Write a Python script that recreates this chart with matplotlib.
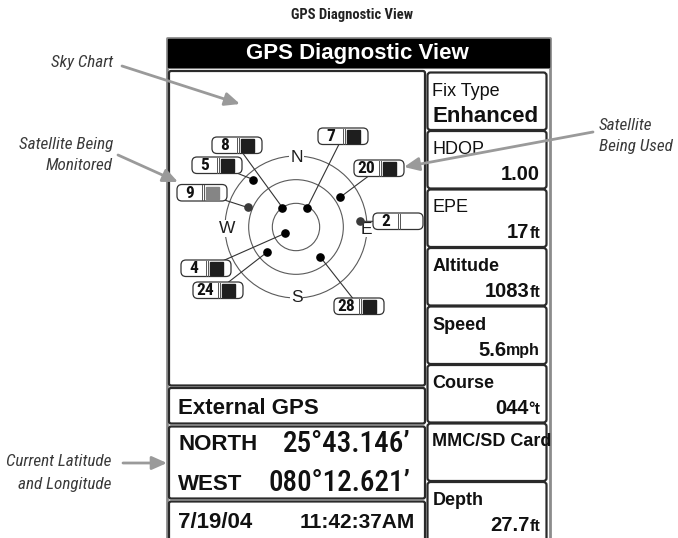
import numpy as np
import matplotlib
matplotlib.use("Agg")
import matplotlib.pyplot as plt
from matplotlib import font_manager as fm
from matplotlib.patches import FancyBboxPatch, Circle, Rectangle

W, H = 678, 538

# --- data -----------------------------------------------------------------
sat_ids   = [8, 7, 5, 9, 20, 2, 4, 24, 28]
sat_az    = [325, 30, 318, 292, 56, 85, 240, 229, 141]   # deg, clockwise from N
sat_el    = [60, 62, 9, 24, 22, 8, 74, 41, 41]            # deg above horizon
sat_state = ["used", "used", "used", "monitored", "used", "none", "used", "used", "used"]
ring_el   = [0, 30, 60]

field_names  = ["Fix Type", "HDOP", "EPE", "Altitude", "Speed", "Course", "MMC/SD Card", "Depth"]
field_values = ["Enhanced", "1.00", "17", "1083", "5.6", "044", "", "27.7"]
field_units  = ["", "", "ft", "ft", "mph", "°t", "", "ft"]

source_txt = "External GPS"
lat_dir, lat_val = "NORTH", "25°43.146’"
lon_dir, lon_val = "WEST", "080°12.621’"
date_txt, time_txt = "7/19/04", "11:42:37AM"

# --- layout ---------------------------------------------------------------
CX, CY, R_OUT = 296, 227, 71
label_boxes = [(212, 137), (318, 128), (192, 157), (177, 184.5), (354, 160),
               (373, 213), (181, 260), (193, 282), (334, 298)]   # top-left, px
LBW, LBH = 50, 16.5

SANS = "Liberation Sans"


def condensed_font(weight, italic):
    """Look for an installed narrow/condensed face; None if there is none."""
    found = []
    for f in fm.fontManager.ttflist:
        nm = f.name.lower()
        fn = f.fname.lower()
        narrow = ("narrow" in nm or "condensed" in nm or "narrow" in fn
                  or "condensed" in fn or f.stretch in ("condensed", "semi-condensed"))
        if not narrow or "extra" in fn or "ultra" in fn:
            continue
        is_it = f.style in ("italic", "oblique")
        w = f.weight if isinstance(f.weight, int) else (700 if "bold" in str(f.weight) else 400)
        pref = 0 if "liberation" in nm else 1 if "roboto" in nm else 2 if "dejavu" in nm else 3
        score = pref * 1000 + abs(w - weight) + (0 if is_it == italic else 500)
        found.append((score, f.fname))
    if not found:
        return None
    found.sort()
    return fm.FontProperties(fname=found[0][1])


def fp(weight=400, italic=False, size=12, fallback_size=None):
    c = condensed_font(weight, italic)
    if c is not None:
        c.set_size(size)
        return c
    return fm.FontProperties(family=SANS, weight="bold" if weight >= 600 else "normal",
                             style="italic" if italic else "normal",
                             size=fallback_size or size * 0.85)


fig = plt.figure(figsize=(W / 100, H / 100), dpi=100)
ax = fig.add_axes([0, 0, 1, 1])
ax.set_xlim(0, W)
ax.set_ylim(H, 0)
ax.axis("off")
rend = fig.canvas.get_renderer()


def rbox(x0, y0, x1, y1, r=3, lw=1.6, ec="#2a2a2a", fc="white", z=2):
    p = FancyBboxPatch((x0, y0), x1 - x0, y1 - y0,
                       boxstyle=f"round,pad=0,rounding_size={r}",
                       lw=lw, ec=ec, fc=fc, zorder=z)
    ax.add_patch(p)
    return p


def sky_xy(az, el):
    r = R_OUT * (90 - np.asarray(el, float)) / 90
    a = np.deg2rad(az)
    return CX + r * np.sin(a), CY - r * np.cos(a)


# caption
ax.text(352, 15, "GPS Diagnostic View", fontproperties=fp(700, size=10.5),
        ha="center", va="center", color="#222")

# outer frame + title bar
ax.plot([166.5, 166.5, 549.5, 549.5], [H, 37.5, 37.5, H], color="#8c8c8c", lw=2, zorder=1)
ax.add_patch(Rectangle((168, 38.5), 380.5, 28.5, color="black", zorder=2))
ax.plot([168, 548.5], [68, 68], color="#8c8c8c", lw=1.5, zorder=1)
ax.text(357, 53, "GPS Diagnostic View", family=SANS, weight="bold", fontsize=16,
        color="white", ha="center", va="center", zorder=3)

# left panel boxes
rbox(169, 71, 425, 385.5, r=2)
rbox(169, 388, 425, 423.5, r=2)
rbox(169, 426.5, 425, 498.5, r=2)
rbox(169, 501.5, 425, 550, r=2)

# sky chart rings
for el in ring_el:
    r = R_OUT * (90 - el) / 90
    ax.add_patch(Circle((CX, CY), r, fill=False, ec="#5a5a5a", lw=0.8, zorder=3))
for lab, (lx, ly) in zip("NSWE", [(296.5, 158), (296.5, 297), (227.5, 228.5), (366.5, 229)]):
    ax.text(lx, ly, lab, family=SANS, fontsize=12.5, color="#1e1e1e", ha="center", va="center",
            zorder=4, bbox=dict(boxstyle="square,pad=0.05", fc="white", ec="none"))

# satellites
sx, sy = sky_xy(sat_az, sat_el)
fill_col = {"used": "#1e1e1e", "monitored": "#858585", "none": None}
dot_col = {"used": "black", "monitored": "#3a3a3a", "none": "#3a3a3a"}
num_fp = fp(700, size=12.5, fallback_size=10.5)
for i, sid in enumerate(sat_ids):
    bx, by = label_boxes[i]
    ax.plot([sx[i], bx + LBW / 2], [sy[i], by + LBH / 2], color="#333", lw=0.8, zorder=4)
    ax.plot(sx[i], sy[i], "o", ms=5.2, color=dot_col[sat_state[i]], zorder=6)
    rbox(bx, by, bx + LBW, by + LBH, r=5, lw=0.9, ec="#333", z=5)
    ax.text(bx + 12.5, by + LBH / 2 + 0.5, str(sid), fontproperties=num_fp,
            ha="center", va="center", color="#111", zorder=6)
    ax.plot([bx + 24.5, bx + 24.5], [by + 0.8, by + LBH - 0.8], color="#555", lw=0.7, zorder=6)
    ax.plot([bx + 26.5, bx + 26.5], [by + 0.8, by + LBH - 0.8], color="#555", lw=0.7, zorder=6)
    if fill_col[sat_state[i]]:
        ax.add_patch(Rectangle((bx + 29, by + 2), 12.5, LBH - 4,
                               color=fill_col[sat_state[i]], zorder=6))

# source / position / time
ax.text(178, 414.5, source_txt, family=SANS, weight="bold", fontsize=16, color="#111", zorder=6)
ax.text(178, 450.5, lat_dir, family=SANS, weight="bold", fontsize=16, color="#111", zorder=6)
ax.text(178, 489.5, lon_dir, family=SANS, weight="bold", fontsize=16, color="#111", zorder=6)
big_fp = fp(500, size=21, fallback_size=18.5)
ax.text(410, 451.5, lat_val, fontproperties=big_fp, ha="right", color="#111", zorder=6)
ax.text(410, 491, lon_val, fontproperties=big_fp, ha="right", color="#111", zorder=6)
ax.text(178, 528, date_txt, family=SANS, weight="bold", fontsize=16, color="#111", zorder=6)
ax.text(415, 528, time_txt, family=SANS, weight="bold", fontsize=15, ha="right", color="#111", zorder=6)

# right-hand data fields
label_weight = ["normal", "normal", "normal", "bold", "bold", "bold", "bold", "bold"]
for i, name in enumerate(field_names):
    top = 72.5 + 58.5 * i
    p = rbox(427.5, top, 546.5, top + 57.5 if i < 7 else 560, r=3)
    t = ax.text(432.5, top + 23, name, family=SANS, weight=label_weight[i], fontsize=13,
                color="#111", zorder=6)
    t.set_clip_path(p)
    val, unit = field_values[i], field_units[i]
    if val == "Enhanced":
        ax.text(433, top + 50, val, family=SANS, weight="bold", fontsize=16, color="#111", zorder=6)
    elif val:
        xr = 540
        if unit:
            u = ax.text(xr, top + 49, unit, family=SANS, weight="bold", fontsize=11.5,
                        ha="right", color="#111", zorder=6)
            xr -= u.get_window_extent(rend).width
        ax.text(xr, top + 49, val, family=SANS, weight="bold", fontsize=14.5,
                ha="right", color="#111", zorder=6)

# callouts
it_fp = fp(400, italic=True, size=12.3, fallback_size=10.5)
IT = dict(fontproperties=it_fp, color="#3a3a3a")
AR = dict(arrowstyle="-|>,head_length=0.9,head_width=0.4", color="#9a9a9a", lw=2,
          shrinkA=0, shrinkB=0)
ax.text(113, 62.5, "Sky Chart", ha="right", va="center", **IT)
ax.annotate("", xy=(240, 104), xytext=(122, 66), arrowprops=AR, zorder=7)
ax.text(113, 145, "Satellite Being", ha="right", va="center", **IT)
ax.text(113, 166, "Monitored", ha="right", va="center", **IT)
ax.annotate("", xy=(178, 182), xytext=(118, 155), arrowprops=AR, zorder=7)
ax.text(111.5, 461.5, "Current Latitude", ha="right", va="center", **IT)
ax.text(111.5, 485, "and Longitude", ha="right", va="center", **IT)
ax.annotate("", xy=(167, 463), xytext=(123, 463), arrowprops=AR, zorder=7)
ax.text(599, 126, "Satellite", ha="left", va="center", **IT)
ax.text(599, 147, "Being Used", ha="left", va="center", **IT)
ax.annotate("", xy=(404, 167), xytext=(593, 132), arrowprops=AR, zorder=7)

fig.savefig("out.png", dpi=100)
